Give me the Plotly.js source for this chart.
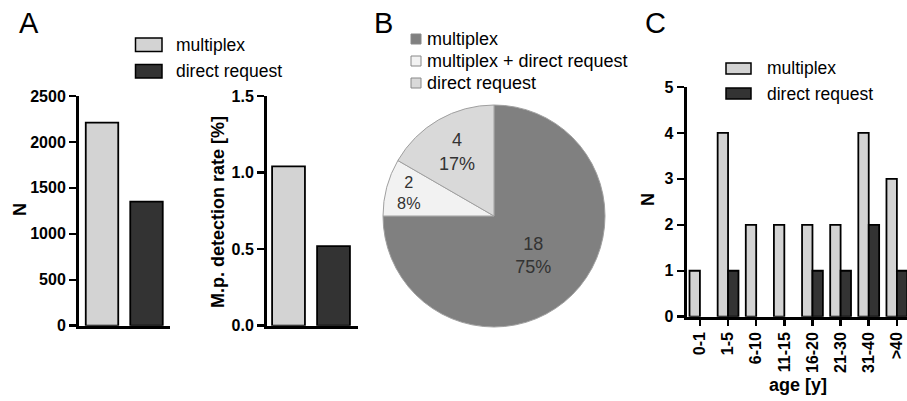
<!DOCTYPE html>
<html>
<head>
<meta charset="utf-8">
<script src="https://cdn.plot.ly/plotly-3.0.1.min.js"></script>
<style>html,body{margin:0;padding:0;background:#fff;}#chart{width:907px;height:401px;}</style>
</head>
<body>
<div id="chart"></div>
<script>
// ---- data ----
const aCategories = ['multiplex', 'direct request'];
const aCounts = [2210, 1350];
const aRates = [1.04, 0.52];
const pieLabels = ['multiplex', 'multiplex + direct request', 'direct request'];
const pieValues = [18, 2, 4];
const ageGroups = ['0-1', '1-5', '6-10', '11-15', '16-20', '21-30', '31-40', '>40'];
const multiplexByAge = [1, 4, 2, 2, 2, 2, 4, 3];
const directByAge = [0, 1, 0, 0, 1, 1, 2, 1];

// ---- styling ----
const W = 907, H = 401;
const px = x => x / W;
const py = y => 1 - y / H;
const LIGHT = '#d3d3d3', DARK = '#333333';
const PIE_COLORS = ['#808080', '#f2f2f2', '#d9d9d9'];
const FONT = 'Liberation Sans, Arial, sans-serif';
const BOLD = {family: FONT, size: 16, color: '#000', weight: 'bold'};

const barLine = {color: '#000', width: 1.8};
const lineFor = vals => ({color: '#000', width: vals.map(v => (v > 0 ? 1.8 : 0))});

const traces = [
  {type: 'bar', x: aCategories, y: aCounts, xaxis: 'x', yaxis: 'y', width: 0.73,
   marker: {color: [LIGHT, DARK], line: barLine}, showlegend: false, hoverinfo: 'x+y'},
  {type: 'bar', x: aCategories, y: aRates, xaxis: 'x2', yaxis: 'y2', width: 0.73,
   marker: {color: [LIGHT, DARK], line: barLine}, showlegend: false, hoverinfo: 'x+y'},
  {type: 'pie', labels: pieLabels, values: pieValues, sort: false, direction: 'clockwise', rotation: 0,
   domain: {x: [px(383), px(605)], y: [py(327), py(105)]},
   marker: {colors: PIE_COLORS, line: {color: '#a0a0a0', width: 1}},
   texttemplate: '%{value}<br>%{percent:.0%}', textposition: 'inside', insidetextorientation: 'horizontal',
   textfont: {family: FONT, size: 18, color: '#333'}, showlegend: false},
  {type: 'bar', name: 'multiplex', x: ageGroups, y: multiplexByAge, xaxis: 'x3', yaxis: 'y3',
   marker: {color: LIGHT, line: lineFor(multiplexByAge)}, showlegend: false},
  {type: 'bar', name: 'direct request', x: ageGroups, y: directByAge, xaxis: 'x3', yaxis: 'y3',
   marker: {color: DARK, line: lineFor(directByAge)}, showlegend: false}
];

const yAxisBase = {showline: true, linewidth: 3, linecolor: '#000', ticks: 'outside', ticklen: 7,
  tickwidth: 2.5, tickcolor: '#000', showgrid: false, zeroline: false, tickfont: BOLD, fixedrange: true};
const xAxisHidden = {showline: true, linewidth: 3, linecolor: '#000', showticklabels: false, ticks: '',
  showgrid: false, zeroline: false, type: 'category', fixedrange: true};

const layout = {
  width: W, height: H,
  margin: {l: 0, r: 0, t: 0, b: 0},
  paper_bgcolor: '#fff', plot_bgcolor: 'rgba(0,0,0,0)',
  barmode: 'group', bargap: 0.26, bargroupgap: 0,
  font: {family: FONT, color: '#000'},
  showlegend: false,
  xaxis: Object.assign({}, xAxisHidden, {domain: [px(79), px(170)], range: [-0.517, 1.528], anchor: 'y'}),
  yaxis: Object.assign({}, yAxisBase, {domain: [py(325.7), py(96)], range: [0, 2500], dtick: 500, anchor: 'x'}),
  xaxis2: Object.assign({}, xAxisHidden, {domain: [px(267), px(358)], range: [-0.478, 1.544], anchor: 'y2'}),
  yaxis2: Object.assign({}, yAxisBase, {domain: [py(325.7), py(96)], range: [0, 1.5], dtick: 0.5, tickformat: '.1f', anchor: 'x2'}),
  xaxis3: {domain: [px(686.7), 1], range: [-0.47, 7.36], anchor: 'y3', type: 'category', showline: true,
    linewidth: 3, linecolor: '#000', ticks: 'outside', ticklen: 6, tickwidth: 2.5, tickcolor: '#000',
    tickangle: -90, tickfont: BOLD, showgrid: false, zeroline: false, fixedrange: true},
  yaxis3: Object.assign({}, yAxisBase, {domain: [py(316.7), py(87)], range: [0, 5], dtick: 1, anchor: 'x3'}),
  shapes: [],
  annotations: []
};

function ann(text, x, y, opts) {
  layout.annotations.push(Object.assign({text: text, x: px(x), y: py(y), xref: 'paper', yref: 'paper',
    showarrow: false, xanchor: 'center', yanchor: 'middle', font: {family: FONT, size: 17, color: '#000'}}, opts || {}));
}
function box(x0, y0, x1, y1, fill, lineColor, lw) {
  layout.shapes.push({type: 'rect', xref: 'paper', yref: 'paper', x0: px(x0), x1: px(x1), y0: py(y1), y1: py(y0),
    fillcolor: fill, line: {color: lineColor, width: lw}});
}

// panel letters
ann('A', 29, 23, {font: {family: FONT, size: 29, color: '#000'}});
ann('B', 383, 23, {font: {family: FONT, size: 29, color: '#000'}});
ann('C', 655, 23, {font: {family: FONT, size: 29, color: '#000'}});

// axis titles
ann('N', 20, 210, {textangle: -90, font: {family: FONT, size: 18, color: '#000', weight: 'bold'}});
ann('M.p. detection rate [%]', 218, 212, {textangle: -90, font: {family: FONT, size: 18, color: '#000', weight: 'bold'}});
ann('N', 648, 200, {textangle: -90, font: {family: FONT, size: 18, color: '#000', weight: 'bold'}});
ann('age [y]', 798, 385, {font: {family: FONT, size: 18, color: '#000', weight: 'bold'}});

// legend A
box(135.5, 38, 162, 51.5, LIGHT, '#000', 1.5);
box(135.5, 64.5, 162, 78, DARK, '#000', 1.5);
ann(aCategories[0], 174, 45, {xanchor: 'left', font: {family: FONT, size: 17.5, color: '#000'}});
ann(aCategories[1], 174, 71, {xanchor: 'left', font: {family: FONT, size: 17.5, color: '#000'}});

// legend B
[39, 61, 83].forEach((yc, i) => {
  box(411, yc - 5, 421, yc + 5, PIE_COLORS[i], '#888', 1);
  ann(pieLabels[i], 425, yc, {xanchor: 'left', font: {family: FONT, size: 18, color: '#000'}});
});

// legend C
box(726, 63, 751, 74, LIGHT, '#000', 1.5);
box(726, 88, 751, 99, DARK, '#000', 1.5);
ann(traces[3].name, 765, 68, {xanchor: 'left', font: {family: FONT, size: 17.5, color: '#000'}});
ann(traces[4].name, 765, 94, {xanchor: 'left', font: {family: FONT, size: 17.5, color: '#000'}});

Plotly.newPlot('chart', traces, layout, {displayModeBar: false, staticPlot: true});
</script>
</body>
</html>
